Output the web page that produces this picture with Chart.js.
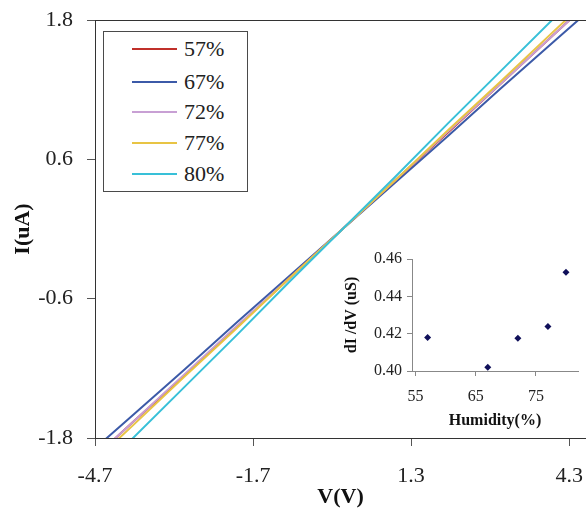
<!DOCTYPE html>
<html>
<head>
<meta charset="utf-8">
<script src="https://cdn.jsdelivr.net/npm/chart.js@4/dist/chart.umd.min.js"></script>
<style>
  html, body { margin: 0; padding: 0; background: #fff; overflow: hidden; }
  #wrap { position: relative; width: 586px; height: 511px; }
  #main { position: absolute; left: 0; top: 0; }
  #inset { position: absolute; left: 330px; top: 240px; }
  #legend {
    position: absolute; left: 103px; top: 31px; width: 145px; height: 161px;
    box-sizing: border-box; border: 1px solid #4a4a4a; background: #fff;
    font-family: "Liberation Serif", "Times New Roman", serif; font-size: 22px; color: #222;
  }
  .row { position: absolute; left: 0; height: 24px; display: flex; align-items: center; }
  .swatch { margin-left: 28px; width: 45px; height: 2px; }
  .row span { margin-left: 7px; }
</style>
</head>
<body>
<div id="wrap">
  <canvas id="main" width="586" height="511"></canvas>
  <canvas id="inset" width="256" height="200"></canvas>
  <div id="legend"></div>
</div>
<script>
// I-V sweeps, one per humidity level
const voltage = [-5, -4, -3, -2, -1, 0, 1, 2, 3, 4, 5];
const humidityLabels = ['57%', '67%', '72%', '77%', '80%'];
const current57 = [-2.09, -1.67, -1.26, -0.84, -0.42, 0, 0.42, 0.83, 1.25, 1.67, 2.09];
const current67 = [-2.01, -1.61, -1.21, -0.80, -0.40, 0, 0.40, 0.80, 1.21, 1.61, 2.01];
const current72 = [-2.09, -1.67, -1.25, -0.83, -0.42, 0, 0.42, 0.84, 1.25, 1.67, 2.09];
const current77 = [-2.12, -1.70, -1.27, -0.85, -0.42, 0, 0.42, 0.85, 1.27, 1.70, 2.12];
const current80 = [-2.27, -1.81, -1.36, -0.91, -0.45, 0, 0.45, 0.91, 1.36, 1.81, 2.27];
const lineColors = ['#c0302a', '#3c5aa8', '#c8a0d4', '#e8c444', '#38c0d8'];

// slope of each sweep against humidity (inset)
const humidity = [57, 67, 72, 77, 80];
const conductance = [0.418, 0.402, 0.4175, 0.4238, 0.4529];

const xTicks = [-4.7, -1.7, 1.3, 4.3];
const yTicks = [-1.8, -0.6, 0.6, 1.8];
const insetXTicks = [55, 65, 75];
const insetYTicks = [0.40, 0.42, 0.44, 0.46];

Chart.defaults.font.family = '"Liberation Serif", "Times New Roman", serif';
Chart.defaults.color = '#222';

const currents = [current57, current67, current72, current77, current80];
const drawOrder = [4, 5, 3, 2, 1];

// fixed axis boxes so the plot area lands where layout.padding says
const fixBox = size => s => {
  if (s.isHorizontal()) s.height = size; else s.width = size;
  s.paddingLeft = s.paddingRight = s.paddingTop = s.paddingBottom = 0;
};

const boxTop = {
  id: 'boxTop',
  afterDraw(chart) {
    const { ctx, chartArea } = chart;
    ctx.save();
    ctx.strokeStyle = '#333';
    ctx.lineWidth = 1;
    ctx.beginPath();
    ctx.moveTo(chartArea.left, chartArea.top + 0.5);
    ctx.lineTo(chartArea.right, chartArea.top + 0.5);
    ctx.stroke();
    ctx.restore();
  }
};

new Chart(document.getElementById('main'), {
  type: 'line',
  data: {
    datasets: humidityLabels.map((label, i) => ({
      label,
      data: voltage.map((v, j) => ({ x: v, y: currents[i][j] })),
      borderColor: lineColors[i],
      borderWidth: 2,
      pointRadius: 0,
      tension: 0,
      order: drawOrder[i]
    }))
  },
  options: {
    responsive: false,
    animation: false,
    layout: { padding: { top: 20, right: 0, left: 0, bottom: 0 } },
    plugins: { legend: { display: false }, tooltip: { enabled: false } },
    scales: {
      x: {
        type: 'linear', min: -4.7, max: 4.62,
        afterBuildTicks: s => { s.ticks = xTicks.map(value => ({ value })); },
        afterFit: fixBox(73),
        ticks: { font: { size: 22 }, padding: 17, callback: v => String(v), color: '#222' },
        grid: { drawOnChartArea: false, tickLength: 8, color: '#555' },
        border: { color: '#333' },
        title: { display: true, text: 'V(V)', font: { size: 22, weight: 'bold' }, padding: { top: 0, bottom: 0 }, color: '#111' }
      },
      y: {
        type: 'linear', min: -1.8, max: 1.8,
        afterBuildTicks: s => { s.ticks = yTicks.map(value => ({ value })); },
        afterFit: fixBox(95),
        ticks: { font: { size: 22 }, padding: 14, callback: v => v.toFixed(1), color: '#222' },
        grid: { drawOnChartArea: false, tickLength: 8, color: '#555' },
        border: { color: '#333' },
        title: { display: true, text: 'I(uA)', font: { size: 22, weight: 'bold' }, padding: { top: 10, bottom: 0 }, color: '#111' }
      }
    }
  },
  plugins: [boxTop]
});

new Chart(document.getElementById('inset'), {
  type: 'scatter',
  data: {
    datasets: [{
      data: humidity.map((h, i) => ({ x: h, y: conductance[i] })),
      pointStyle: 'rectRot',
      pointRadius: 3.5,
      backgroundColor: '#10105a',
      borderColor: '#10105a',
      borderWidth: 0
    }]
  },
  options: {
    responsive: false,
    animation: false,
    layout: { padding: { top: 19, right: 8, left: 0, bottom: 0 } },
    plugins: { legend: { display: false }, tooltip: { enabled: false } },
    scales: {
      x: {
        type: 'linear', min: 54.4, max: 82,
        afterBuildTicks: s => { s.ticks = insetXTicks.map(value => ({ value })); },
        afterFit: fixBox(69),
        ticks: { font: { size: 16 }, padding: 11, callback: v => String(v), color: '#222' },
        grid: { drawOnChartArea: false, tickLength: 5, color: '#888' },
        border: { color: '#888' },
        title: { display: true, text: 'Humidity(%)', font: { size: 16, weight: 'bold' }, padding: { top: 0, bottom: 10 }, color: '#111' }
      },
      y: {
        type: 'linear', min: 0.40, max: 0.46,
        afterBuildTicks: s => { s.ticks = insetYTicks.map(value => ({ value })); },
        afterFit: fixBox(82),
        ticks: { font: { size: 16 }, padding: 5, callback: v => v.toFixed(2), color: '#222' },
        grid: { drawOnChartArea: false, tickLength: 5, color: '#888' },
        border: { color: '#888' },
        title: { display: true, text: 'dI /dV (uS)', font: { size: 16, weight: 'bold' }, padding: { top: 12, bottom: 0 }, color: '#111' }
      }
    }
  }
});

// legend box
const legend = document.getElementById('legend');
const rowCenters = [17, 50, 80, 111, 142];
humidityLabels.forEach((label, i) => {
  const row = document.createElement('div');
  row.className = 'row';
  row.style.top = (rowCenters[i] - 12) + 'px';
  const sw = document.createElement('div');
  sw.className = 'swatch';
  sw.style.background = lineColors[i];
  const txt = document.createElement('span');
  txt.textContent = label;
  row.appendChild(sw);
  row.appendChild(txt);
  legend.appendChild(row);
});
</script>
</body>
</html>
